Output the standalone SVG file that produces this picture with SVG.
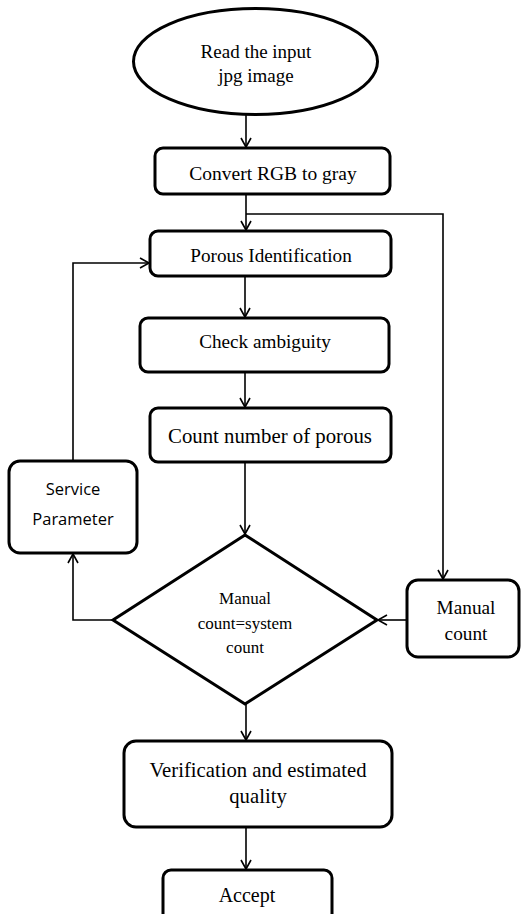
<svg xmlns="http://www.w3.org/2000/svg" width="521" height="914" viewBox="0 0 521 914">
<defs>
<marker id="arr" markerWidth="12" markerHeight="12" refX="10" refY="6" orient="auto" markerUnits="userSpaceOnUse">
<path d="M1,1 L10,6 L1,11" fill="none" stroke="#000" stroke-width="1.6"/>
</marker>
<style>
.box{fill:#fff;stroke:#000;stroke-width:3}
.con{fill:none;stroke:#000;stroke-width:1.6}
.t{font-family:"Liberation Serif","Times New Roman",serif;fill:#000;text-anchor:middle}
.s{font-family:"Open Sans","Noto Sans",sans-serif;fill:#000;text-anchor:middle}
</style>
</defs>
<rect width="521" height="914" fill="#fff"/>
<g id="connectors">
<path class="con" d="M246,115 V147" marker-end="url(#arr)"/>
<path class="con" d="M246,194 V230" marker-end="url(#arr)"/>
<path class="con" d="M246,214 H443 V579" marker-end="url(#arr)"/>
<path class="con" d="M245,276 V317" marker-end="url(#arr)"/>
<path class="con" d="M245,372 V407" marker-end="url(#arr)"/>
<path class="con" d="M245,462 V534" marker-end="url(#arr)"/>
<path class="con" d="M113,620 H73 V554" marker-end="url(#arr)"/>
<path class="con" d="M73,461 V263 H149" marker-end="url(#arr)"/>
<path class="con" d="M407,620 H378" marker-end="url(#arr)"/>
<path class="con" d="M246,704 V740" marker-end="url(#arr)"/>
<path class="con" d="M246,827 V869" marker-end="url(#arr)"/>
</g>
<g id="start">
<ellipse class="box" cx="255.5" cy="61.5" rx="122" ry="53"/>
<text class="t" x="256" y="58" font-size="19">Read the input</text>
<text class="t" x="256" y="82" font-size="19">jpg image</text>
</g>
<g id="gray">
<rect class="box" x="155" y="148" width="235" height="46" rx="8"/>
<text class="t" x="273" y="180" font-size="19.5">Convert RGB to gray</text>
</g>
<g id="porous">
<rect class="box" x="150" y="231" width="241" height="45" rx="8"/>
<text class="t" x="271" y="262" font-size="19.2">Porous Identification</text>
</g>
<g id="check">
<rect class="box" x="140" y="318" width="249" height="54" rx="8"/>
<text class="t" x="265" y="348" font-size="19.2">Check ambiguity</text>
</g>
<g id="count">
<rect class="box" x="150" y="408" width="241" height="54" rx="8"/>
<text class="t" x="270" y="443" font-size="20.8">Count number of porous</text>
</g>
<g id="service">
<rect class="box" x="9" y="461" width="128" height="92" rx="11"/>
<text class="s" x="73" y="495" font-size="16.5">Service</text>
<text class="s" x="73" y="525" font-size="16.5">Parameter</text>
</g>
<g id="decision">
<polygon class="box" points="245,535 377,620 245,704 113,620"/>
<text class="t" x="245" y="604" font-size="17">Manual</text>
<text class="t" x="245" y="629" font-size="17">count=system</text>
<text class="t" x="245" y="653" font-size="17">count</text>
</g>
<g id="manual">
<rect class="box" x="407" y="580" width="112" height="77" rx="11"/>
<text class="t" x="466" y="614" font-size="19.3">Manual</text>
<text class="t" x="466" y="640" font-size="19.3">count</text>
</g>
<g id="verify">
<rect class="box" x="124" y="741" width="268" height="86" rx="12"/>
<text class="t" x="258" y="777" font-size="20.7">Verification and estimated</text>
<text class="t" x="258" y="803" font-size="20.7">quality</text>
</g>
<g id="accept">
<rect class="box" x="163" y="870" width="169" height="60" rx="8"/>
<text class="t" x="247" y="902" font-size="20">Accept</text>
</g>
</svg>
